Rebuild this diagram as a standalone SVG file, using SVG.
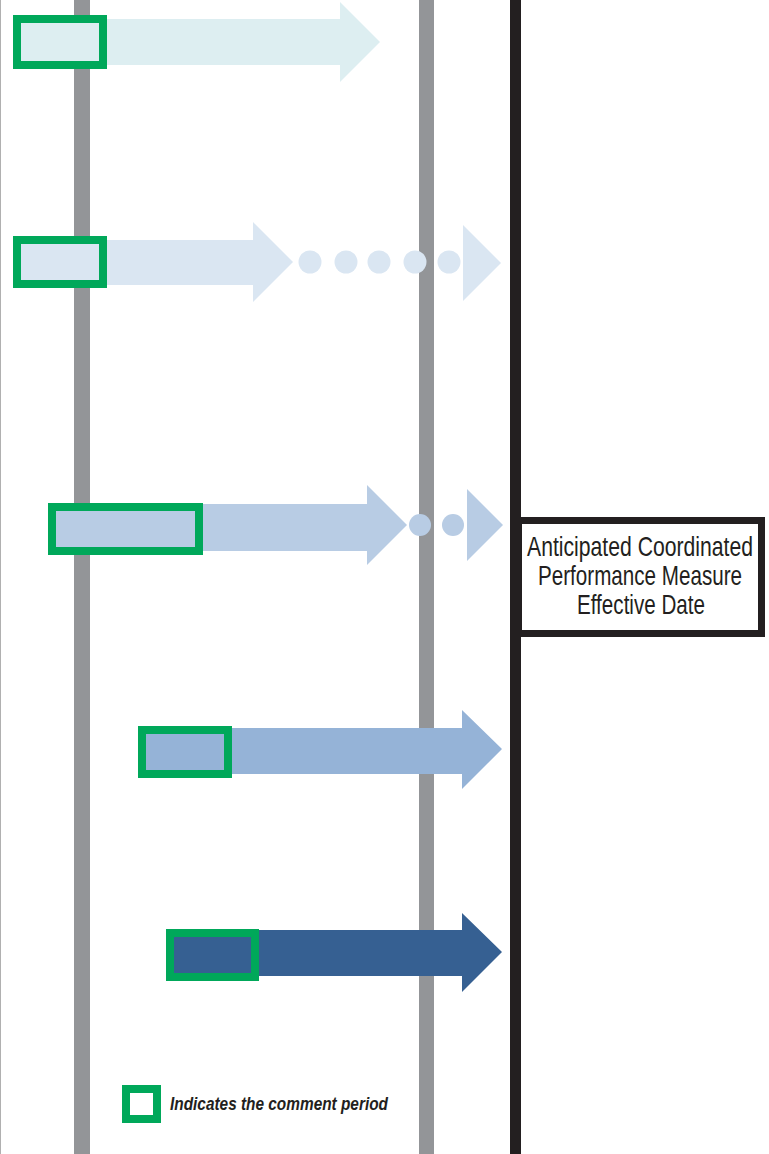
<svg xmlns="http://www.w3.org/2000/svg" width="769" height="1154" viewBox="0 0 769 1154">
<style>
.gbox{fill:none;stroke:#00a85a;stroke-width:8}
.grey{fill:#939598}
.a1{fill:#ddeef1}
.a2{fill:#dae6f2}
.a3{fill:#b8cce4}
.a4{fill:#95b3d7}
.a5{fill:#366092}
.lbl{font-family:"Liberation Sans",Arial,sans-serif;font-size:21px;fill:#231f20;text-anchor:middle}
.leg{font-family:"Liberation Sans",Arial,sans-serif;font-size:15px;font-style:italic;font-weight:bold;fill:#231f20}
</style>
<rect x="0" y="0" width="769" height="1154" fill="#ffffff"/>
<g id="connectors">
<rect x="0" y="0" width="1" height="1154" fill="#b0b0b0"/>
<rect class="grey" x="74" y="0" width="16" height="1154"/>
<rect class="grey" x="419" y="0" width="15" height="1154"/>
<rect x="510" y="0" width="11" height="1154" fill="#231f20"/>
</g>
<g id="arrow1">
<polygon class="a1" points="17,19 340,19 340,2 380,42 340,82 340,65 17,65"/>
<rect class="gbox" x="17" y="19" width="86" height="46"/>
</g>
<g id="arrow2">
<polygon class="a2" points="17,240 253,240 253,222 293,262 253,302 253,285 17,285"/>
<circle class="a2" cx="310" cy="262" r="11.5"/>
<circle class="a2" cx="346" cy="262" r="11.5"/>
<circle class="a2" cx="379" cy="262" r="11.5"/>
<circle class="a2" cx="415" cy="262" r="11.5"/>
<circle class="a2" cx="449" cy="262" r="11.5"/>
<polygon class="a2" points="463,225 501,263 463,301"/>
<rect class="gbox" x="17" y="240" width="86" height="44"/>
</g>
<g id="arrow3">
<polygon class="a3" points="52,504 367,504 367,485 407,525 367,565 367,551 52,551"/>
<circle class="a3" cx="420" cy="525" r="11"/>
<circle class="a3" cx="453" cy="525" r="11"/>
<polygon class="a3" points="467,489 503,525 467,561"/>
<rect class="gbox" x="52" y="507" width="147" height="44"/>
</g>
<g id="arrow4">
<polygon class="a4" points="142,728 462,728 462,710 502,749 462,789 462,774 142,774"/>
<rect class="gbox" x="142" y="730" width="86" height="44"/>
</g>
<g id="arrow5">
<polygon class="a5" points="170,930 462,930 462,913 502,952 462,992 462,976 170,976"/>
<rect class="gbox" x="170" y="933" width="85" height="44"/>
</g>
<g id="effective-date">
<rect x="518.5" y="520.5" width="243" height="113" fill="#ffffff" stroke="#231f20" stroke-width="7"/>
<g transform="translate(640,0) scale(1,1.29)">
<text class="lbl" x="0" y="431" textLength="226" lengthAdjust="spacingAndGlyphs">Anticipated Coordinated</text>
<text class="lbl" x="0" y="453.5" textLength="204" lengthAdjust="spacingAndGlyphs">Performance Measure</text>
<text class="lbl" x="1" y="476" textLength="128" lengthAdjust="spacingAndGlyphs">Effective Date</text>
</g>
</g>
<g id="legend">
<rect class="gbox" x="126" y="1089" width="31" height="30"/>
<g transform="translate(0,1110) scale(1,1.2)">
<text class="leg" x="170" y="0" textLength="218" lengthAdjust="spacingAndGlyphs">Indicates the comment period</text>
</g>
</g>
</svg>
